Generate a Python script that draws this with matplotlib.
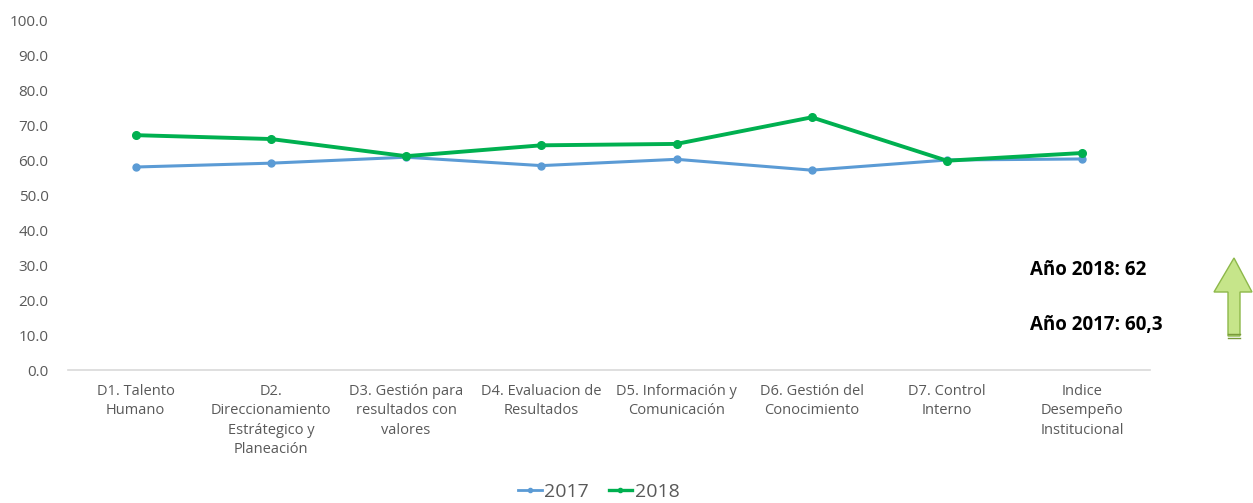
import matplotlib
matplotlib.use("Agg")
import matplotlib.pyplot as plt
from matplotlib.patches import Polygon
from matplotlib.lines import Line2D

categories = [
    "D1. Talento\nHumano",
    "D2.\nDireccionamiento\nEstrátegico y\nPlaneación",
    "D3. Gestión para\nresultados con\nvalores",
    "D4. Evaluacion de\nResultados",
    "D5. Información y\nComunicación",
    "D6. Gestión del\nConocimiento",
    "D7. Control\nInterno",
    "Indice\nDesempeño\nInstitucional",
]
values_2017 = [58.0, 59.1, 60.8, 58.4, 60.2, 57.1, 60.0, 60.3]
values_2018 = [67.1, 66.0, 61.1, 64.2, 64.6, 72.2, 59.8, 62.0]
yticks = [0, 10, 20, 30, 40, 50, 60, 70, 80, 90, 100]

plt.rcParams['font.family'] = ['Open Sans', 'DejaVu Sans']
gray = '#595959'

fig = plt.figure(figsize=(12.53, 5.03), dpi=100)
ax = fig.add_axes([0.0543, 0.2644, 0.8633, 0.6958])

x = list(range(len(categories)))
ax.plot(x, values_2017, color='#5B9BD5', lw=2.2, marker='o', ms=5, label='2017')
ax.plot(x, values_2018, color='#00B050', lw=2.8, marker='o', ms=5.5, label='2018')

ax.set_xlim(-0.5, len(categories) - 0.5)
ax.set_ylim(0, 100)
ax.set_yticks(yticks)
ax.set_yticklabels([f"{v:.1f}" for v in yticks], color=gray, fontsize=11)
ax.set_xticks(x)
ax.set_xticklabels(categories, color=gray, fontsize=10.5, linespacing=1.4, va='top')
ax.tick_params(axis='both', length=0)
ax.tick_params(axis='y', pad=14)
ax.tick_params(axis='x', pad=10)

for s in ['top', 'right', 'left']:
    ax.spines[s].set_visible(False)
ax.spines['bottom'].set_color('#D9D9D9')
ax.spines['bottom'].set_linewidth(1.2)

handles = [
    Line2D([], [], color='#5B9BD5', lw=2.0, marker='o', ms=3),
    Line2D([], [], color='#00B050', lw=2.4, marker='o', ms=3),
]
fig.legend(handles, ['2017', '2018'], loc='center', bbox_to_anchor=(0.478, 0.022),
           ncol=2, frameon=False, fontsize=14, labelcolor=gray,
           handlelength=1.2, handletextpad=0.15, columnspacing=1.0)

fig.text(1030 / 1253, 1 - 270 / 503, "Año 2018: 62", fontsize=13.5, fontweight='bold',
         va='center', ha='left', color='black')
fig.text(1030 / 1253, 1 - 325 / 503, "Año 2017: 60,3", fontsize=13.5, fontweight='bold',
         va='center', ha='left', color='black')

# green up arrow on the right
W, H = 1253, 503
pts = [(1228, 336), (1228, 292), (1214, 292), (1234, 258), (1252, 292),
       (1240, 292), (1240, 336)]
arrow = Polygon([(px / W, 1 - py / H) for px, py in pts], closed=True,
                transform=fig.transFigure, facecolor='#C6E58A', edgecolor='#8DB84A', lw=1)
fig.patches.append(arrow)
for yy in (334, 338):
    fig.add_artist(Line2D([1228 / W, 1240 / W], [1 - yy / H, 1 - yy / H],
                          transform=fig.transFigure, color='#7A9A3A', lw=1))

fig.savefig("out.png", dpi=100)
